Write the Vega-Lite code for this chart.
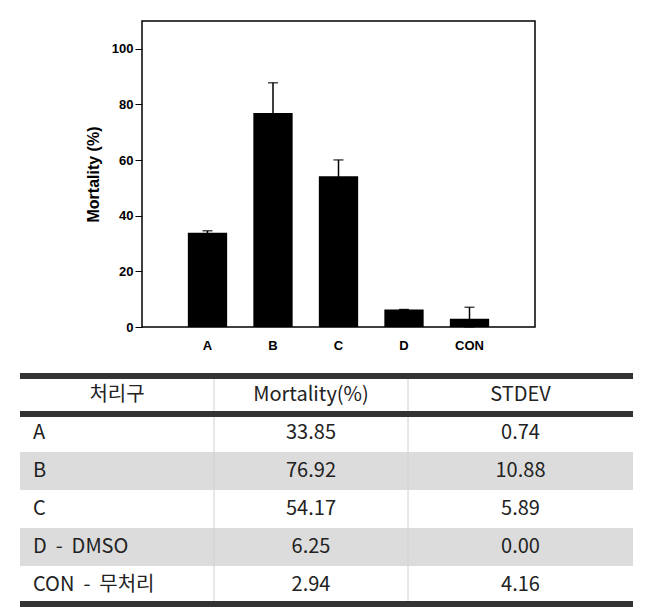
{
  "$schema": "https://vega.github.io/schema/vega-lite/v6.json",
  "padding": {"left": 17, "top": 20, "right": 0, "bottom": 0},
  "background": "white",
  "spacing": 20,
  "data": {"values": [
    {"g": "A", "name": "A", "mort": 33.85, "sd": 0.74},
    {"g": "B", "name": "B", "mort": 76.92, "sd": 10.88},
    {"g": "C", "name": "C", "mort": 54.17, "sd": 5.89},
    {"g": "D", "name": "D\u00a0\u00a0-\u00a0\u00a0DMSO", "mort": 6.25, "sd": 0.00},
    {"g": "CON", "name": "CON\u00a0\u00a0-\u00a0\u00a0무처리", "mort": 2.94, "sd": 4.16}
  ]},
  "config": {"view": {"stroke": null}, "font": "Liberation Sans"},
  "vconcat": [
    {
      "width": 393,
      "height": 306,
      "view": {"stroke": "black", "strokeWidth": 1.5},
      "encoding": {
        "x": {"field": "g", "type": "nominal", "sort": null,
          "scale": {"paddingInner": 0.4, "paddingOuter": 0.7},
          "axis": {"title": null, "labelAngle": 0, "ticks": false, "domain": false, "labelFont": "Liberation Sans", "labelFontWeight": "bold", "labelFontSize": 13, "labelColor": "black", "labelPadding": 12}},
        "y": {"field": "mort", "type": "quantitative",
          "scale": {"domain": [0, 110], "nice": false, "clamp": true},
          "axis": {"title": "Mortality (%)", "values": [0, 20, 40, 60, 80, 100], "grid": false, "domain": false, "tickColor": "black", "tickSize": 7, "tickWidth": 1, "labelPadding": 2, "labelFont": "Liberation Sans", "labelFontWeight": "bold", "labelFontSize": 13, "labelColor": "black", "titleFont": "Liberation Sans", "titleFontSize": 16, "titleFontWeight": "bold", "titleColor": "black", "titlePadding": 10}}
      },
      "layer": [
        {"mark": {"type": "bar", "color": "black"}},
        {"mark": {"type": "errorbar", "color": "black", "thickness": 1.5, "ticks": {"size": 10}}, "encoding": {"yError": {"field": "sd"}}}
      ]
    },
    {
      "width": 491,
      "height": 228,
      "layer": [
        {
          "transform": [{"filter": {"field": "g", "oneOf": ["B", "D"]}}],
          "mark": {"type": "rect", "color": "#dcdcdc"},
          "encoding": {
            "x": {"datum": 0, "type": "quantitative", "scale": {"domain": [0, 1, 2, 3], "range": [-122, 72, 266, 491], "nice": false, "zero": false}, "axis": null},
            "x2": {"datum": 3},
            "y": {"field": "g", "type": "nominal", "scale": {"domain": ["h", "A", "B", "C", "D", "CON"], "paddingInner": 0, "paddingOuter": 0}, "axis": null}
          }
        },
        {"data": {"values": [{}]}, "mark": {"type": "rule", "color": "#d0d0d0", "strokeWidth": 1}, "encoding": {"x": {"datum": 1, "type": "quantitative"}}},
        {"data": {"values": [{}]}, "mark": {"type": "rule", "color": "#d0d0d0", "strokeWidth": 1}, "encoding": {"x": {"datum": 2, "type": "quantitative"}}},
        {"data": {"values": [{}]}, "mark": {"type": "rule", "color": "#333333", "strokeWidth": 6}, "encoding": {"x": {"datum": 0, "type": "quantitative"}, "x2": {"datum": 3}, "y": {"datum": "h", "type": "nominal", "bandPosition": 0}}},
        {"data": {"values": [{}]}, "mark": {"type": "rule", "color": "#333333", "strokeWidth": 6}, "encoding": {"x": {"datum": 0, "type": "quantitative"}, "x2": {"datum": 3}, "y": {"datum": "h", "type": "nominal", "bandPosition": 1}}},
        {"data": {"values": [{}]}, "mark": {"type": "rule", "color": "#333333", "strokeWidth": 6}, "encoding": {"x": {"datum": 0, "type": "quantitative"}, "x2": {"datum": 3}, "y": {"datum": "CON", "type": "nominal", "bandPosition": 1}}},
        {"data": {"values": [{}]}, "mark": {"type": "text", "font": "Noto Sans CJK KR", "fontSize": 20, "color": "#222222"}, "encoding": {"x": {"datum": 0.5, "type": "quantitative"}, "y": {"datum": "h", "type": "nominal"}, "text": {"value": "처리구"}}},
        {"data": {"values": [{}]}, "mark": {"type": "text", "font": "Noto Sans CJK KR", "fontSize": 20, "color": "#222222"}, "encoding": {"x": {"datum": 1.5, "type": "quantitative"}, "y": {"datum": "h", "type": "nominal"}, "text": {"value": "Mortality(%)"}}},
        {"data": {"values": [{}]}, "mark": {"type": "text", "font": "Noto Sans CJK KR", "fontSize": 20, "color": "#222222"}, "encoding": {"x": {"datum": 2.5, "type": "quantitative"}, "y": {"datum": "h", "type": "nominal"}, "text": {"value": "STDEV"}}},
        {"mark": {"type": "text", "font": "Noto Sans CJK KR", "fontSize": 20, "color": "#222222", "align": "left", "dx": 13}, "encoding": {"x": {"datum": 0, "type": "quantitative"}, "y": {"field": "g", "type": "nominal"}, "text": {"field": "name"}}},
        {"mark": {"type": "text", "font": "Noto Sans CJK KR", "fontSize": 20, "color": "#222222"}, "encoding": {"x": {"datum": 1.5, "type": "quantitative"}, "y": {"field": "g", "type": "nominal"}, "text": {"field": "mort", "format": ".2f"}}},
        {"mark": {"type": "text", "font": "Noto Sans CJK KR", "fontSize": 20, "color": "#222222"}, "encoding": {"x": {"datum": 2.5, "type": "quantitative"}, "y": {"field": "g", "type": "nominal"}, "text": {"field": "sd", "format": ".2f"}}}
      ]
    }
  ]
}
